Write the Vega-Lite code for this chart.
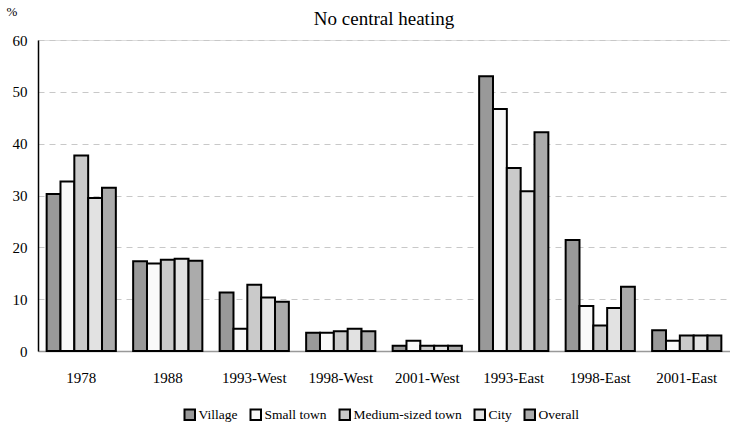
{
  "$schema": "https://vega.github.io/schema/vega-lite/v6.json",
  "width": 692,
  "height": 311,
  "autosize": {"type": "none"},
  "padding": {"left": 38, "top": 40, "right": 0, "bottom": 79},
  "background": "white",
  "title": {"text": "No central heating", "font": "Liberation Serif", "fontSize": 19, "fontWeight": "normal", "color": "black", "anchor": "middle", "offset": 12, "dy": 36},
  "data": {"values": [
    {"period": "1978", "type": "Village", "v": 30.3},
    {"period": "1978", "type": "Small town", "v": 32.7},
    {"period": "1978", "type": "Medium-sized town", "v": 37.7},
    {"period": "1978", "type": "City", "v": 29.5},
    {"period": "1978", "type": "Overall", "v": 31.5},
    {"period": "1988", "type": "Village", "v": 17.3},
    {"period": "1988", "type": "Small town", "v": 16.9},
    {"period": "1988", "type": "Medium-sized town", "v": 17.6},
    {"period": "1988", "type": "City", "v": 17.8},
    {"period": "1988", "type": "Overall", "v": 17.4},
    {"period": "1993-West", "type": "Village", "v": 11.3},
    {"period": "1993-West", "type": "Small town", "v": 4.3},
    {"period": "1993-West", "type": "Medium-sized town", "v": 12.8},
    {"period": "1993-West", "type": "City", "v": 10.3},
    {"period": "1993-West", "type": "Overall", "v": 9.5},
    {"period": "1998-West", "type": "Village", "v": 3.5},
    {"period": "1998-West", "type": "Small town", "v": 3.5},
    {"period": "1998-West", "type": "Medium-sized town", "v": 3.8},
    {"period": "1998-West", "type": "City", "v": 4.3},
    {"period": "1998-West", "type": "Overall", "v": 3.8},
    {"period": "2001-West", "type": "Village", "v": 1.0},
    {"period": "2001-West", "type": "Small town", "v": 2.0},
    {"period": "2001-West", "type": "Medium-sized town", "v": 1.0},
    {"period": "2001-West", "type": "City", "v": 1.0},
    {"period": "2001-West", "type": "Overall", "v": 1.0},
    {"period": "1993-East", "type": "Village", "v": 53.0},
    {"period": "1993-East", "type": "Small town", "v": 46.7},
    {"period": "1993-East", "type": "Medium-sized town", "v": 35.3},
    {"period": "1993-East", "type": "City", "v": 30.8},
    {"period": "1993-East", "type": "Overall", "v": 42.2},
    {"period": "1998-East", "type": "Village", "v": 21.4},
    {"period": "1998-East", "type": "Small town", "v": 8.7},
    {"period": "1998-East", "type": "Medium-sized town", "v": 4.9},
    {"period": "1998-East", "type": "City", "v": 8.3},
    {"period": "1998-East", "type": "Overall", "v": 12.4},
    {"period": "2001-East", "type": "Village", "v": 4.0},
    {"period": "2001-East", "type": "Small town", "v": 2.0},
    {"period": "2001-East", "type": "Medium-sized town", "v": 3.0},
    {"period": "2001-East", "type": "City", "v": 3.0},
    {"period": "2001-East", "type": "Overall", "v": 3.0}
  ]},
  "mark": {"type": "bar", "stroke": "black", "strokeWidth": 2},
  "encoding": {
    "x": {"field": "period", "type": "nominal", "sort": null,
      "scale": {"paddingInner": 0.2, "paddingOuter": 0.1},
      "axis": {"title": null, "labelAngle": 0, "ticks": false, "domainColor": "#999999", "domainWidth": 1.5, "labelFont": "Liberation Serif", "labelFontSize": 15, "labelColor": "black", "labelPadding": 19}},
    "xOffset": {"field": "type", "type": "nominal", "sort": ["Village", "Small town", "Medium-sized town", "City", "Overall"], "scale": {"paddingInner": 0}},
    "y": {"field": "v", "type": "quantitative",
      "scale": {"domain": [0, 60]},
      "axis": {"values": [0, 10, 20, 30, 40, 50, 60], "ticks": false, "domain": true, "domainColor": "black", "domainWidth": 1.5, "grid": true, "gridDash": [6, 5], "gridColor": "#c8c8c8", "labelFont": "Liberation Serif", "labelFontSize": 15, "labelColor": "black", "labelPadding": 11,
        "title": "%", "titleAngle": 0, "titleFont": "Liberation Serif", "titleFontSize": 13, "titleFontWeight": "normal", "titleX": -32, "titleY": -22, "titleAlign": "left"}},
    "color": {"field": "type", "type": "nominal",
      "sort": ["Village", "Small town", "Medium-sized town", "City", "Overall"],
      "scale": {"domain": ["Village", "Small town", "Medium-sized town", "City", "Overall"], "range": ["#999999", "#f9f9f9", "#cacaca", "#e2e2e2", "#ababab"]},
      "legend": {"title": null, "orient": "none", "legendX": 145, "legendY": 368, "direction": "horizontal", "symbolType": "square", "symbolSize": 110, "symbolStrokeColor": "black", "symbolStrokeWidth": 2, "labelFont": "Liberation Serif", "labelFontSize": 13.5, "labelColor": "black", "labelOffset": 2, "columnPadding": 8}}
  }
}
